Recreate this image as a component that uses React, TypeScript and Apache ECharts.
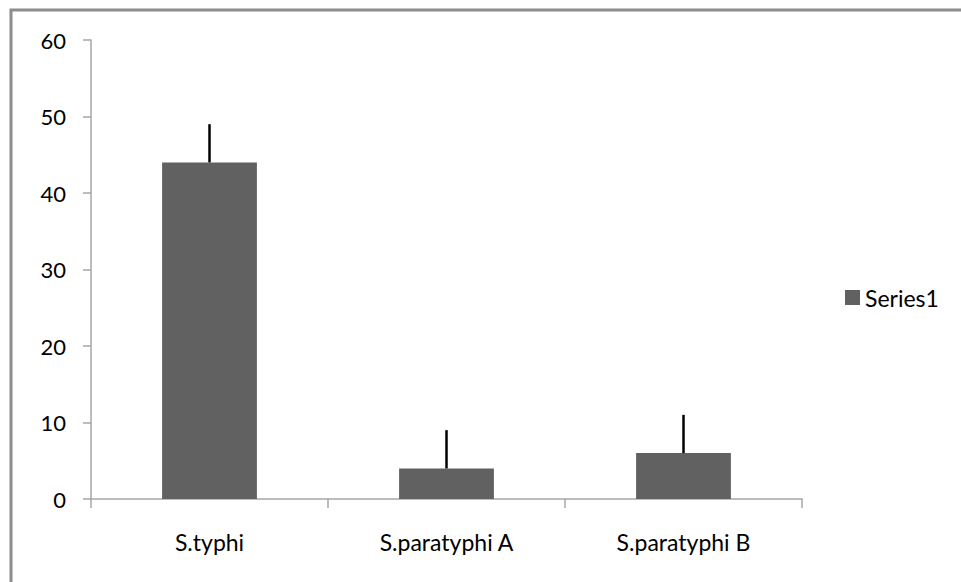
import React, { useEffect, useRef } from "react";
import * as echarts from "echarts";

const categories = ["S.typhi", "S.paratyphi A", "S.paratyphi B"];
const values = [44, 4, 6];
const errors = [5, 5, 5];
const seriesName = "Series1";

export default function App() {
  const ref = useRef<HTMLDivElement>(null);
  useEffect(() => {
    if (!ref.current) return;
    const chart = echarts.init(ref.current, null, { renderer: "svg" });
    const font = "Lato, 'Open Sans', sans-serif";
    chart.setOption({
      animation: false,
      backgroundColor: "#ffffff",
      textStyle: { fontFamily: font },
      graphic: [
        {
          type: "rect",
          shape: { x: 11, y: 10, width: 1200, height: 1200 },
          style: { fill: "none", stroke: "#8c8c8c", lineWidth: 3 },
          silent: true,
        },
      ],
      grid: { left: 91, right: 159, top: 40, bottom: 83 },
      legend: {
        data: [seriesName],
        left: 840,
        top: 281,
        orient: "vertical",
        icon: "rect",
        itemWidth: 15,
        itemHeight: 15,
        itemGap: 8,
        textStyle: { fontFamily: font, fontSize: 23, color: "#000" },
      },
      xAxis: {
        type: "category",
        data: categories,
        axisLine: { lineStyle: { color: "#a6a6a6", width: 1.5 } },
        axisTick: { show: true, length: 9, lineStyle: { color: "#a6a6a6", width: 1.5 } },
        axisLabel: { fontFamily: font, fontSize: 23, color: "#000", margin: 31 },
        splitLine: { show: false },
      },
      yAxis: {
        type: "value",
        min: 0,
        max: 60,
        interval: 10,
        axisLine: { show: true, lineStyle: { color: "#a6a6a6", width: 1.5 } },
        axisTick: { show: true, length: 8, lineStyle: { color: "#a6a6a6", width: 1.5 } },
        axisLabel: { fontFamily: font, fontSize: 22, color: "#000", margin: 25 },
        splitLine: { show: false },
      },
      series: [
        {
          name: seriesName,
          type: "bar",
          data: values,
          barCategoryGap: "60%",
          itemStyle: { color: "#616161" },
        },
        {
          name: "errors",
          type: "custom",
          data: values.map((v, i) => [i, v, errors[i]]),
          encode: { x: 0, y: 1 },
          z: 5,
          renderItem: (params: any, api: any) => {
            const i = api.value(0);
            const v = api.value(1);
            const e = api.value(2);
            const p0 = api.coord([i, v]);
            const p1 = api.coord([i, v + e]);
            return {
              type: "line",
              shape: { x1: p0[0], y1: p0[1], x2: p1[0], y2: p1[1] },
              style: { stroke: "#000", lineWidth: 2.5 },
            };
          },
        },
      ],
    });
    return () => chart.dispose();
  }, []);
  return (
    <div
      ref={ref}
      style={{ position: "fixed", left: 0, top: 0, width: 961, height: 582 }}
    />
  );
}
